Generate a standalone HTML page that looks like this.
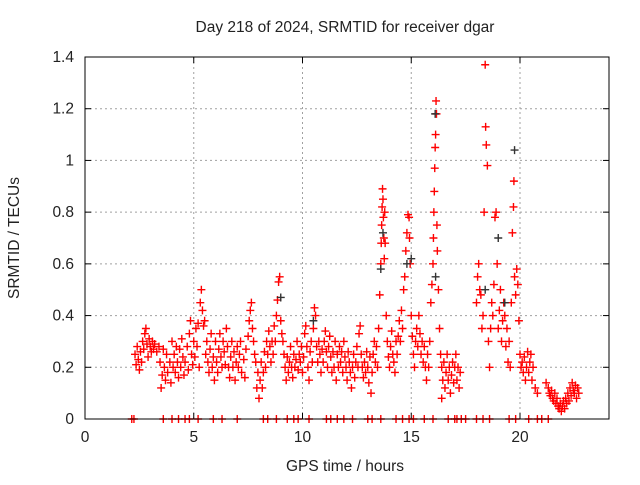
<!DOCTYPE html>
<html><head><meta charset="utf-8"><style>
body{margin:0;background:#fff}
svg text{font-family:"Liberation Sans",sans-serif;font-size:15.5px;fill:#222}
</style></head><body>
<svg id="chart" width="640" height="480" xmlns="http://www.w3.org/2000/svg">
<rect width="640" height="480" fill="#fff"/>
<text x="345" y="32" text-anchor="middle">Day 218 of 2024, SRMTID for receiver dgar</text>
<text x="345" y="471" text-anchor="middle">GPS time / hours</text>
<text transform="translate(19,238) rotate(-90)" text-anchor="middle">SRMTID / TECUs</text>
<g id="grid"></g>
<g id="ticks"></g>
<g id="marks"></g>
<rect x="85" y="57" width="524" height="362" fill="none" stroke="#000" stroke-width="1"/>
</svg>
<script>
const xTicks=[0,5,10,15,20];
const yTicks=[0,0.2,0.4,0.6,0.8,1,1.2,1.4];
const yTickLabels=["0","0.2","0.4","0.6","0.8","1","1.2","1.4"];
const redT=[2.3,2.35,2.4,2.45,2.5,2.55,2.6,2.65,2.7,2.75,2.8,2.85,2.9,2.95,3.0,3.05,3.1,3.15,3.2,3.3,3.4,3.45,3.5,3.55,3.6,3.65,3.7,3.75,3.8,3.9,3.95,4.0,4.05,4.1,4.15,4.2,4.25,4.3,4.35,4.4,4.45,4.5,4.55,4.6,4.7,4.75,4.8,4.85,4.9,4.95,
5.0,5.05,5.1,5.15,5.2,5.25,5.3,5.35,5.4,5.45,5.5,5.55,5.6,5.65,5.7,5.75,5.8,5.85,5.9,5.95,6.0,6.05,6.1,6.15,6.2,6.25,6.3,6.35,6.4,6.45,6.5,6.55,6.6,6.65,6.7,6.75,6.8,6.85,6.9,6.95,
7.0,7.05,7.1,7.15,7.2,7.3,7.35,7.4,7.5,7.55,7.6,7.65,7.7,7.75,7.8,7.85,7.9,7.95,8.0,8.05,8.1,8.15,8.2,8.25,8.3,8.35,8.4,8.45,8.5,8.55,8.6,8.65,8.7,8.75,8.8,8.85,8.9,8.95,9.0,9.05,9.1,9.15,
9.2,9.25,9.3,9.35,9.4,9.45,9.5,9.55,9.6,9.65,9.7,9.75,9.8,9.85,9.9,9.95,10.0,10.05,10.1,10.15,10.2,10.25,10.3,10.35,10.4,10.45,10.5,10.55,10.6,10.65,10.7,10.75,10.8,10.85,10.9,10.95,
11.0,11.05,11.1,11.15,11.2,11.25,11.3,11.35,11.4,11.45,11.5,11.55,11.6,11.65,11.7,11.75,11.8,11.85,11.9,11.95,12.0,12.05,12.1,12.15,12.2,12.25,12.3,12.35,12.4,12.45,12.5,12.55,12.6,12.65,12.7,12.75,12.8,12.85,12.9,12.95,13.0,13.05,13.1,13.15,13.2,13.25,13.3,13.35,13.4,13.45,
13.5,13.55,13.6,13.62,13.64,13.66,13.68,13.7,13.72,13.74,13.76,13.78,13.8,13.85,13.9,13.95,14.0,14.05,14.1,14.15,14.2,14.25,14.3,14.35,14.4,14.45,
14.5,14.55,14.6,14.65,14.7,14.75,14.8,14.85,14.9,14.92,14.95,15.0,15.05,15.1,15.15,15.2,15.25,15.3,15.35,15.4,15.45,15.5,
15.55,15.6,15.65,15.7,15.75,15.8,15.85,15.9,15.95,16.0,16.02,16.04,16.06,16.08,16.1,16.12,16.14,16.16,16.18,16.2,16.25,16.3,
16.35,16.4,16.45,16.5,16.55,16.6,16.65,16.7,16.75,16.8,16.85,16.9,16.95,17.0,17.05,17.1,17.15,17.2,17.25,16.4,
18.0,18.05,18.1,18.15,18.2,18.25,18.3,18.35,18.4,18.42,18.45,18.5,18.55,18.6,18.65,18.7,18.75,18.8,18.85,18.9,18.95,19.0,19.05,19.1,19.15,19.2,19.25,19.3,19.35,19.4,19.45,19.5,19.55,19.6,19.65,19.7,19.72,19.75,19.8,19.85,19.9,19.95,20.0,20.05,20.1,20.15,20.2,20.25,20.3,20.35,20.4,20.45,20.5,20.55,20.6,20.7,20.8,
21.2,21.3,21.35,21.4,21.45,21.5,21.55,21.6,21.65,21.7,21.75,21.8,21.85,21.9,21.95,22.0,22.05,22.1,22.15,22.2,22.25,22.3,22.35,22.4,22.45,22.5,22.55,22.6,22.65,22.7];
const redV=[.25,.21,.28,.23,.19,.26,.22,.3,.27,.33,.35,.29,.24,.31,.28,.26,.3,.27,.29,.26,.28,.22,.12,.17,.27,.2,.15,.25,.18,.22,.14,.3,.2,.25,.18,.28,.22,.16,.27,.2,.31,.24,.17,.22,.28,.19,.33,.38,.25,.21,
.3,.24,.35,.28,.37,.2,.45,.5,.42,.36,.38,.25,.3,.22,.18,.27,.33,.2,.24,.15,.3,.22,.18,.27,.33,.24,.2,.3,.26,.21,.35,.28,.2,.16,.24,.3,.2,.26,.15,.22,
.28,.2,.25,.3,.18,.23,.16,.27,.32,.38,.42,.45,.35,.3,.25,.22,.12,.18,.08,.15,.22,.12,.18,.26,.2,.3,.25,.34,.28,.22,.3,.25,.36,.3,.4,.46,.53,.55,.38,.33,.3,.25,
.2,.15,.24,.18,.22,.28,.2,.16,.25,.2,.23,.3,.19,.25,.22,.28,.18,.24,.33,.36,.28,.2,.15,.26,.3,.22,.35,.43,.4,.28,.22,.3,.25,.18,.27,.22,
.3,.34,.26,.2,.28,.32,.24,.18,.26,.2,.3,.15,.25,.2,.28,.22,.26,.18,.3,.24,.2,.15,.26,.22,.18,.12,.2,.25,.16,.22,.28,.2,.33,.36,.25,.2,.16,.22,.18,.26,.2,.14,.24,.1,.18,.25,.3,.22,.28,.2,
.35,.48,.6,.68,.75,.82,.89,.85,.78,.7,.62,.8,.68,.4,.3,.24,.2,.28,.34,.25,.22,.18,.3,.25,.32,.38,
.3,.42,.35,.5,.55,.65,.72,.79,.78,.7,.6,.4,.32,.25,.2,.3,.35,.28,.4,.33,.25,.3,
.22,.28,.2,.15,.25,.2,.3,.45,.52,.6,.7,.8,.88,.97,1.05,1.1,1.23,1.18,.75,.65,.5,.35,
.25,.2,.15,.22,.12,.18,.25,.15,.2,.1,.17,.22,.14,.2,.25,.15,.2,.12,.18,.08,
.45,.55,.6,.5,.48,.35,.4,.8,1.37,1.13,1.06,.98,.3,.2,.35,.45,.4,.52,.78,.8,.6,.35,.42,.5,.3,.38,.45,.4,.28,.35,.22,.3,.2,.45,.72,.82,.92,.55,.48,.58,.52,.38,.25,.2,.22,.18,.24,.15,.2,.26,.18,.22,.25,.15,.2,.12,.1,
.14,.12,.1,.09,.11,.08,.07,.1,.06,.08,.05,.04,.06,.03,.05,.07,.04,.08,.06,.1,.07,.12,.09,.14,.11,.1,.13,.08,.12,.1];
const blackT=[9.0,10.5,13.6,13.7,15.0,16.1,16.12,18.4,19.0,19.75,19.3,14.8];
const blackV=[.47,.38,.58,.72,.62,1.18,.55,.5,.7,1.04,.45,.6];
const zeroT=[2.15,2.25,3.6,4.0,4.3,4.6,4.8,5.2,5.9,6.3,7.0,8.2,8.4,8.8,9.3,9.6,9.8,10.3,11.1,11.3,11.6,11.9,12.3,13.0,13.2,13.6,14.3,14.6,14.9,15.1,15.6,16.0,16.7,17.0,17.1,17.3,17.5,18.0,18.3,18.6,19.5,19.8,20.4,20.8,21.0,21.3];
const x0=85,x1=607,y0=419,yTop=57;
const sx=t=>x0+t*(x1-x0)/24;
const sy=v=>y0-v*(y0-yTop)/1.4;
const NS="http://www.w3.org/2000/svg";
const grid=document.getElementById('grid'),ticks=document.getElementById('ticks'),marks=document.getElementById('marks');
function mk(tag,attrs,parent){const e=document.createElementNS(NS,tag);for(const k in attrs)e.setAttribute(k,attrs[k]);parent.appendChild(e);return e;}
xTicks.forEach(t=>{const x=sx(t);
 if(t>0){const g=mk('line',{x1:x,x2:x,y1:yTop,y2:y0,stroke:'#a0a0a0','stroke-dasharray':'2,3'},grid);
 
 }
 mk('line',{x1:x,x2:x,y1:y0,y2:y0-6,stroke:'#000'},ticks);
 mk('line',{x1:x,x2:x,y1:yTop,y2:yTop+6,stroke:'#000'},ticks);
 const l=mk('text',{x:x,y:y0+23,'text-anchor':'middle'},ticks);l.textContent=t;
 
 });
yTicks.forEach((v,i)=>{const y=sy(v);
 if(v>0&&v<1.4){const g=mk('line',{x1:x0,x2:609,y1:y,y2:y,stroke:'#a0a0a0','stroke-dasharray':'2,3'},grid);
 
 }
 mk('line',{x1:x0,x2:x0+6,y1:y,y2:y,stroke:'#000'},ticks);
 mk('line',{x1:609,x2:603,y1:y,y2:y,stroke:'#000'},ticks);
 const l=mk('text',{x:x0-11,y:y+5,'text-anchor':'end'},ticks);l.textContent=yTickLabels[i];
 
 });
function plus(x,y,c,name){const p=mk('path',{d:`M${x-4},${y}h8M${x},${y-4}v8`,stroke:c,'stroke-width':1.4,fill:'none'},marks);
 
 }
redT.forEach((t,i)=>plus(sx(t),sy(redV[i]),'#ff0000','red-point'));
blackT.forEach((t,i)=>plus(sx(t),sy(blackV[i]),'#333','black-point'));
zeroT.forEach(t=>plus(sx(t),sy(0),'#ff0000','zero-point'));
</script>
</body></html>
